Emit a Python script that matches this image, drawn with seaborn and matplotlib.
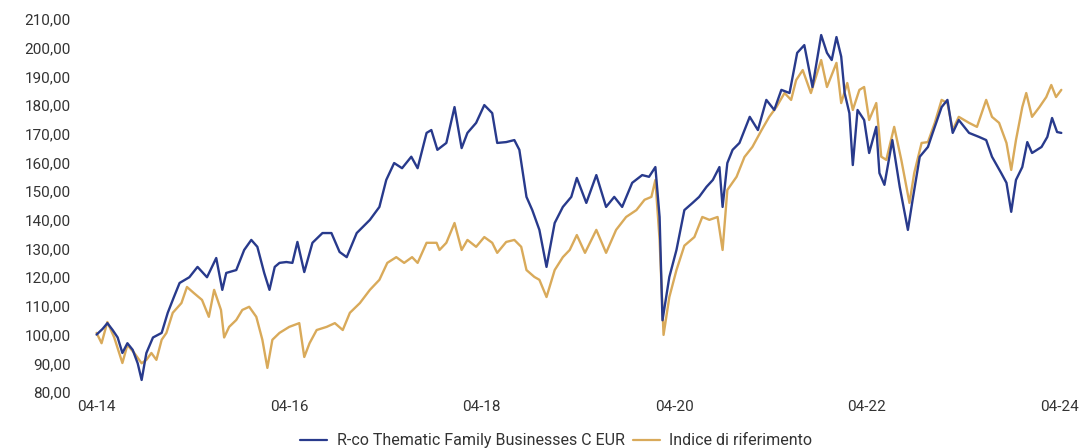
import pandas as pd
import matplotlib
matplotlib.use('Agg')
import matplotlib.pyplot as plt
from matplotlib.ticker import FuncFormatter
import seaborn as sns


FUND_NAME = 'R-co Thematic Family Businesses C EUR'
INDEX_NAME = 'Indice di riferimento'

fund_dates = [
    '2014-04-01', '2014-04-24', '2014-05-12', '2014-06-01', '2014-06-20', '2014-07-08',
    '2014-07-27', '2014-08-16', '2014-09-04', '2014-09-19', '2014-10-07', '2014-11-01',
    '2014-12-04', '2014-12-27', '2015-01-19', '2015-02-10', '2015-03-19', '2015-04-19',
    '2015-05-25', '2015-06-29', '2015-07-22', '2015-08-06', '2015-09-13', '2015-10-13',
    '2015-11-09', '2015-12-02', '2015-12-28', '2016-01-17', '2016-02-06', '2016-02-24',
    '2016-03-21', '2016-04-13', '2016-05-02', '2016-05-28', '2016-06-28', '2016-08-05',
    '2016-09-08', '2016-10-09', '2016-11-05', '2016-12-13', '2017-02-01', '2017-03-09',
    '2017-04-04', '2017-05-04', '2017-06-03', '2017-07-08', '2017-08-01', '2017-09-04',
    '2017-09-22', '2017-10-15', '2017-11-18', '2017-12-19', '2018-01-15', '2018-02-06',
    '2018-03-11', '2018-04-11', '2018-05-11', '2018-05-30', '2018-07-03', '2018-08-03',
    '2018-08-22', '2018-09-18', '2018-10-10', '2018-11-06', '2018-12-03', '2019-01-03',
    '2019-02-03', '2019-03-07', '2019-03-28', '2019-05-03', '2019-06-10', '2019-07-17',
    '2019-08-17', '2019-09-16', '2019-10-24', '2019-12-01', '2019-12-27', '2020-01-20',
    '2020-02-05', '2020-02-16', '2020-03-13', '2020-04-09', '2020-05-09', '2020-06-09',
    '2020-07-04', '2020-08-01', '2020-08-25', '2020-09-19', '2020-10-01', '2020-10-19',
    '2020-11-08', '2020-12-04', '2021-01-12', '2021-02-12', '2021-03-16', '2021-04-15',
    '2021-05-12', '2021-06-12', '2021-07-11', '2021-08-07', '2021-09-07', '2021-10-10',
    '2021-11-01', '2021-11-19', '2021-12-07', '2021-12-25', '2022-01-07', '2022-01-25',
    '2022-02-07', '2022-02-25', '2022-03-22', '2022-04-10', '2022-05-07', '2022-05-19',
    '2022-06-07', '2022-07-07', '2022-08-04', '2022-09-04', '2022-09-22', '2022-10-19',
    '2022-11-19', '2022-12-07', '2023-01-10', '2023-02-01', '2023-02-21', '2023-03-16',
    '2023-04-24', '2023-06-01', '2023-06-28', '2023-07-20', '2023-08-24', '2023-09-13',
    '2023-10-01', '2023-10-19', '2023-11-12', '2023-12-01', '2023-12-19', '2024-01-24',
    '2024-02-15', '2024-03-04', '2024-03-23', '2024-04-08',
]
fund_values = [
    100.0, 102.0, 104.0, 101.6, 99.0, 93.6,
    97.0, 94.7, 90.0, 84.2, 93.6, 99.0,
    100.6, 107.6, 113.0, 118.0, 120.0, 123.6,
    120.0, 126.7, 115.6, 121.5, 122.5, 129.5,
    133.0, 130.6, 121.5, 115.6, 123.6, 125.0,
    125.3, 125.0, 132.3, 121.8, 132.0, 135.4,
    135.4, 128.8, 127.0, 135.4, 140.0, 144.5,
    153.9, 159.8, 158.0, 162.0, 158.0, 170.3,
    171.3, 164.4, 166.8, 179.3, 165.0, 170.3,
    173.8, 180.0, 177.2, 166.8, 167.1, 167.8,
    164.4, 148.0, 143.4, 136.5, 123.6, 138.9,
    144.5, 148.0, 154.6, 145.9, 155.6, 144.5,
    148.0, 144.5, 152.9, 155.6, 155.0, 158.4,
    141.0, 105.0, 120.1, 129.5, 143.4, 145.9,
    148.0, 151.5, 153.9, 158.4, 144.5, 159.8,
    164.4, 166.8, 175.9, 171.3, 181.8, 178.3,
    185.3, 184.2, 198.2, 200.9, 186.3, 204.4,
    198.2, 195.7, 203.7, 196.9, 184.2, 177.2,
    159.1, 178.3, 174.8, 163.3, 172.4, 156.3,
    152.2, 167.8, 151.5, 136.5, 147.0, 162.0,
    165.4, 170.3, 179.3, 181.8, 170.3, 174.8,
    170.3, 168.9, 167.8, 162.0, 156.3, 152.9,
    142.8, 153.9, 158.4, 167.1, 163.3, 165.4,
    168.9, 175.5, 170.6, 170.3,
]

index_dates = [
    '2014-04-01', '2014-04-20', '2014-05-12', '2014-06-07', '2014-07-08', '2014-07-27',
    '2014-08-22', '2014-09-19', '2014-10-07', '2014-10-26', '2014-11-14', '2014-12-04',
    '2014-12-22', '2015-01-15', '2015-02-17', '2015-03-10', '2015-04-05', '2015-05-06',
    '2015-06-01', '2015-06-21', '2015-07-17', '2015-07-29', '2015-08-17', '2015-09-13',
    '2015-10-06', '2015-11-01', '2015-11-28', '2015-12-21', '2016-01-09', '2016-01-28',
    '2016-02-24', '2016-04-01', '2016-05-09', '2016-05-28', '2016-06-17', '2016-07-14',
    '2016-08-21', '2016-09-21', '2016-10-21', '2016-11-17', '2016-12-25', '2017-02-01',
    '2017-03-09', '2017-04-08', '2017-05-12', '2017-06-11', '2017-07-11', '2017-08-01',
    '2017-09-04', '2017-10-12', '2017-10-23', '2017-11-18', '2017-12-19', '2018-01-15',
    '2018-02-06', '2018-03-11', '2018-04-11', '2018-05-11', '2018-05-30', '2018-07-03',
    '2018-08-03', '2018-08-29', '2018-09-18', '2018-10-18', '2018-11-06', '2018-12-03',
    '2019-01-03', '2019-02-03', '2019-03-01', '2019-03-28', '2019-04-28', '2019-06-10',
    '2019-07-17', '2019-08-24', '2019-10-01', '2019-11-09', '2019-12-10', '2020-01-05',
    '2020-01-20', '2020-02-05', '2020-02-20', '2020-03-13', '2020-04-09', '2020-05-09',
    '2020-06-16', '2020-07-16', '2020-08-12', '2020-09-12', '2020-10-01', '2020-10-19',
    '2020-11-23', '2020-12-23', '2021-01-22', '2021-02-26', '2021-03-27', '2021-04-23',
    '2021-05-24', '2021-06-18', '2021-07-07', '2021-08-01', '2021-09-01', '2021-10-10',
    '2021-11-01', '2021-12-07', '2021-12-25', '2022-01-17', '2022-02-07', '2022-03-04',
    '2022-03-22', '2022-04-10', '2022-05-07', '2022-05-26', '2022-06-14', '2022-07-14',
    '2022-08-10', '2022-09-10', '2022-09-28', '2022-10-26', '2022-11-19', '2022-12-15',
    '2023-01-10', '2023-02-01', '2023-02-21', '2023-03-16', '2023-04-24', '2023-05-24',
    '2023-06-28', '2023-07-20', '2023-08-16', '2023-09-13', '2023-10-01', '2023-10-19',
    '2023-11-12', '2023-11-27', '2023-12-19', '2024-01-16', '2024-02-11', '2024-03-01',
    '2024-03-19', '2024-04-08',
]
index_values = [
    100.6, 97.0, 104.4, 99.0, 90.1, 96.4,
    93.6, 90.0, 91.2, 93.6, 91.2, 98.2,
    100.6, 107.6, 111.0, 116.6, 114.5, 112.1,
    106.2, 115.6, 108.6, 99.0, 102.7, 105.1,
    108.6, 109.7, 106.2, 98.2, 88.4, 98.2,
    100.6, 102.7, 104.0, 92.2, 97.0, 101.6,
    102.7, 104.0, 101.6, 107.6, 111.0, 115.6,
    119.1, 125.0, 127.0, 125.0, 127.0, 125.0,
    132.0, 132.0, 129.5, 132.0, 138.9, 129.5,
    133.0, 130.6, 134.0, 132.0, 128.5, 132.3,
    133.0, 130.6, 122.5, 120.1, 119.1, 113.1,
    122.5, 127.0, 129.5, 134.7, 128.5, 136.5,
    128.5, 136.5, 141.0, 143.4, 147.0, 148.0,
    153.9, 133.0, 99.9, 113.1, 122.5, 131.0,
    134.0, 141.0, 140.0, 141.0, 129.5, 150.4,
    155.0, 161.9, 165.4, 171.3, 175.9, 179.3,
    184.2, 181.8, 188.7, 192.2, 184.2, 195.7,
    186.3, 194.7, 180.7, 187.7, 178.3, 185.3,
    186.3, 174.8, 180.7, 162.0, 160.9, 172.4,
    160.9, 145.9, 156.3, 166.8, 167.1, 173.8,
    181.8, 180.7, 171.3, 175.9, 173.8, 172.4,
    181.8, 175.9, 173.8, 166.8, 157.4, 167.8,
    179.3, 184.2, 175.9, 179.3, 182.8, 187.0,
    182.8, 185.3,
]

tick_dates = ['2014-04-01', '2016-04-01', '2018-04-01', '2020-04-01', '2022-04-01', '2024-04-01']
tick_labels = ['04-14', '04-16', '04-18', '04-20', '04-22', '04-24']
y_ticks = list(range(80, 211, 10))

COLORS = {FUND_NAME: '#283a8c', INDEX_NAME: '#d9aa5a'}


def build_frame():
    fund = pd.DataFrame({'date': pd.to_datetime(fund_dates), 'value': fund_values, 'series': FUND_NAME})
    index = pd.DataFrame({'date': pd.to_datetime(index_dates), 'value': index_values, 'series': INDEX_NAME})
    # index drawn first so the fund line sits on top
    return pd.concat([index, fund], ignore_index=True)


def main():
    sns.set_style('white')
    plt.rcParams['font.family'] = ['Roboto', 'DejaVu Sans']

    df = build_frame()

    fig = plt.figure(figsize=(10.82, 4.48), dpi=100)
    ax = fig.add_axes([0.07, 0.125, 0.925, 0.8326])

    sns.lineplot(data=df, x='date', y='value', hue='series', palette=COLORS,
                 hue_order=[INDEX_NAME, FUND_NAME], linewidth=1.7, ax=ax, legend=False)

    ax.set_xlim(pd.Timestamp('2014-01-12'), pd.Timestamp('2024-06-05'))
    ax.set_ylim(80, 210)
    ax.set_xticks(pd.to_datetime(tick_dates))
    ax.set_xticklabels(tick_labels)
    ax.set_yticks(y_ticks)
    ax.yaxis.set_major_formatter(FuncFormatter(lambda v, _: f'{v:.2f}'.replace('.', ',')))
    ax.tick_params(axis='both', length=0, labelsize=11, colors='#333333')
    ax.tick_params(axis='x', pad=6)
    ax.set_xlabel('')
    ax.set_ylabel('')
    sns.despine(ax=ax, left=True, bottom=True)

    handles = [plt.Line2D([], [], color=COLORS[FUND_NAME], linewidth=1.6),
               plt.Line2D([], [], color=COLORS[INDEX_NAME], linewidth=1.6)]
    fig.legend(handles, [FUND_NAME, INDEX_NAME], loc='center', bbox_to_anchor=(0.514, 0.016),
               ncol=2, frameon=False, fontsize=11.5, handlelength=1.7, columnspacing=0.5,
               handletextpad=0.6, borderpad=0, labelcolor='#333333')

    fig.savefig('out.png', dpi=100)
    plt.close(fig)


if __name__ == '__main__':
    main()
